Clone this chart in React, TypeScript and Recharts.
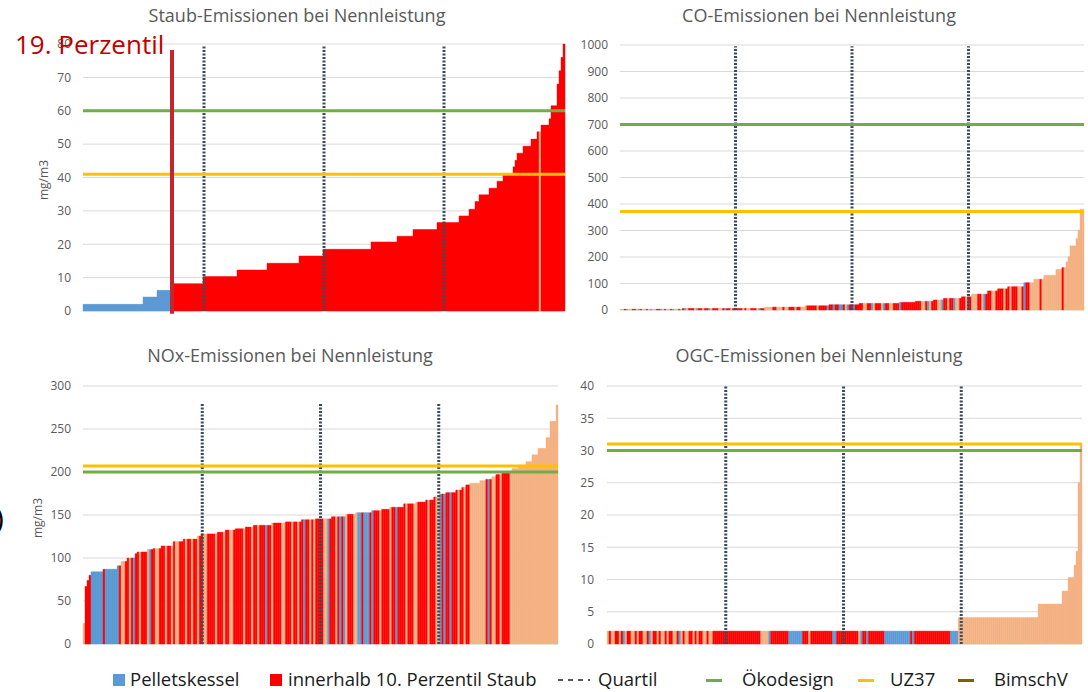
import React from "react";
import { BarChart, Bar, Cell, XAxis, YAxis, CartesianGrid, ReferenceLine } from "recharts";

// sorted measurements as runs: value + how many units carry it
const staubValues = [2, 4.2, 6.2, 8.2, 10.3, 12.3, 14.3, 16.5, 18.5, 20.7, 22.4, 24.4, 26.5, 28.5, 30.5, 32.8, 34.8, 36.8, 38.9, 41, 43.2, 45.2, 47.3, 49.4, 51.5, 53.7, 55.7, 57.6, 61.5, 68, 72, 76, 80];
const staubCounts = [30, 7, 7, 16, 17, 15, 16, 12, 24, 13, 8, 12, 11, 5, 3, 2, 5, 4, 3, 5, 1, 1, 3, 4, 3, 2, 4, 1, 3, 1, 1, 1, 1];
const staubKinds = "b44r184s1r12";

const coValues = [3, 6, 11, 16, 20, 25, 29, 33, 38, 44, 50, 60, 72, 80, 88, 103, 116, 131, 153, 160, 182, 201, 242, 270, 302, 380];
const coCounts = [31, 41, 20, 12, 15, 20, 8, 9, 5, 9, 5, 8, 5, 5, 8, 5, 5, 6, 3, 2, 1, 1, 3, 1, 1, 2];
const coKinds =
  "s2r1b1s2r2s1b1r1s2r1s1b1s2r2b1s1r1s2r1b1s2r1s1r1b1s1" +
  "r3s1b1r2s1r2b1s1r3s2r1b1r2s1r3" +
  "r2s1r1s2r3s1b1r2s2" +
  "s2r2s3r1s2r3s1r2s3" +
  "r5s1r4b1r2" +
  "b1r2b2r1s1b1r2b1r1" +
  "r3s2r2b1s1r3s1b1r2s2r3b1r1" +
  "r9" +
  "s2r1b1s1r3s2b1r2s1r2b1s2r3s1r2" +
  "s3r2s1b1r3s2r4s1r2s1r3s2r1b1r2" +
  "s5r1s10r1s10";

const noxValues = [24, 67, 74, 80, 84, 87, 91, 96, 100, 105, 107, 110, 111, 114, 119, 122, 125.6, 128, 130, 132.5, 134, 136, 138, 140.7, 142, 144.5, 145.5, 148, 150.8, 152.7, 155, 156.6, 159, 163, 165, 167.4, 171, 174.4, 176, 179, 182, 185, 187, 190, 191.5, 194.5, 197, 199, 204, 208, 212, 220, 227.5, 240, 259, 278];
const noxCounts = [1, 1, 1, 1, 6, 7, 2, 3, 4, 1, 5, 3, 4, 6, 5, 7, 2, 8, 4, 5, 5, 4, 9, 7, 8, 7, 8, 7, 5, 8, 5, 4, 7, 6, 5, 4, 3, 3, 5, 3, 2, 2, 5, 3, 3, 2, 3, 5, 3, 4, 3, 3, 4, 2, 3, 1];
const noxKinds =
  "s1r3b6r1b7" +
  "r1s2r2s1r1b1r2s1r3s1b1r2s2r3s1r2s1r1s2r3s1r2s1r2s1r2" +
  "s2r4s1r3s1r2s2r5s1r3s1r2s1r3b1r2s1r4s2r3s1r2s1r2b1r2s1r1s1r2" +
  "r2s2b1r3s1r1b1r1b1s1r3s2b2r1b3r1b1r3s1r4s1r2b1r4s1r3s2r5s1r3s2b1r1b1r2b1r3s1r2s1r2" +
  "s8r1b1r1s2r2s1r4s24";

const ogcValues = [2, 4.1, 6.2, 8.2, 10.3, 12.2, 14.4, 25, 31];
const ogcCounts = [176, 40, 12, 3, 3, 1, 1, 1, 1];
const ogcKinds =
  "s1r1s2r2s1r1b1s1r2s2r1s1r2s2r1b1s1r2s1r1s2r1s1r2s2r1b1s1r1s2r2s1r1s1r2s2r1s2" +
  "r24s4b1r9b7r3s1r11b2r1r10s1b1r2b1r8b13r1b1r18b4s62";

// quartile positions (unit index) and limit values
const staubQuartiles = [60, 120, 180];
const coQuartiles = [57, 115, 173];
const noxQuartiles = [59, 118, 177];
const ogcQuartiles = [59, 118, 177];

const staubTicks = [0, 10, 20, 30, 40, 50, 60, 70, 80];
const coTicks = [0, 100, 200, 300, 400, 500, 600, 700, 800, 900, 1000];
const noxTicks = [0, 50, 100, 150, 200, 250, 300];
const ogcTicks = [0, 5, 10, 15, 20, 25, 30, 35, 40];

const limitsOeko = { staub: 60, co: 700, nox: 200, ogc: 30 };
const limitsUz = { staub: 41, co: 372, nox: 207, ogc: 31 };
const perzentilIndex = 44;

const FONT = "'Open Sans', sans-serif";
const COLORS: Record<string, string> = { b: "#5B9BD5", r: "#FF0000", s: "#F4B183" };

function expand(values: number[], counts: number[]) {
  const out: number[] = [];
  values.forEach((v, i) => {
    for (let k = 0; k < counts[i]; k++) out.push(v);
  });
  return out;
}

function parseKinds(runs: string) {
  const out: string[] = [];
  for (const m of runs.matchAll(/([brs])(\d+)/g)) {
    for (let k = 0; k < Number(m[2]); k++) out.push(m[1]);
  }
  return out;
}

function Panel(props: any) {
  const { left, top, width, height, margin, yWidth, tickGap, ticks, values, counts, kinds, quartiles, quartileTop, oeko, uz, marker } = props;
  const vals = expand(values, counts);
  const ks = parseKinds(kinds);
  const data = vals.map((v, i) => ({ i, v, k: ks[i] || "s" }));
  const max = ticks[ticks.length - 1];
  return (
    <div style={{ position: "absolute", left, top, width, height }}>
      <BarChart width={width} height={height} data={data} margin={margin} barCategoryGap={0} barGap={0}>
        <CartesianGrid vertical={false} stroke="#D9D9D9" />
        <XAxis dataKey="i" hide />
        <YAxis
          width={yWidth}
          domain={[0, max]}
          ticks={ticks}
          interval={0}
          axisLine={false}
          tickLine={false}
          tickSize={6}
          tickMargin={tickGap}
          tick={{ fontSize: 12, fill: "#595959", fontFamily: FONT }}
        />
        <Bar dataKey="v" isAnimationActive={false}>
          {data.map((d) => (
            <Cell key={d.i} fill={COLORS[d.k]} stroke={COLORS[d.k]} strokeWidth={0.4} />
          ))}
        </Bar>
        {quartiles.map((q: number) => (
          <ReferenceLine
            key={q}
            segment={[{ x: q, y: 0 }, { x: q, y: quartileTop }]}
            stroke="#3B4A5E"
            strokeWidth={3}
            strokeDasharray="2 1.5"
          />
        ))}
        <ReferenceLine y={uz} stroke="#FFC000" strokeWidth={3} />
        <ReferenceLine y={oeko} stroke="#70AD47" strokeWidth={3} />
        {marker !== undefined && (
          <ReferenceLine
            segment={[{ x: marker, y: -0.8 }, { x: marker, y: 78.2 }]}
            stroke="#C3272D"
            strokeWidth={4}
            ifOverflow="visible"
          />
        )}
      </BarChart>
    </div>
  );
}

const titleStyle = (cx: number, cy: number): React.CSSProperties => ({
  position: "absolute",
  left: cx - 250,
  top: cy - 12,
  width: 500,
  height: 24,
  lineHeight: "24px",
  textAlign: "center",
  fontFamily: FONT,
  fontSize: 18,
  color: "#595959",
  whiteSpace: "nowrap",
});

const unitStyle = (cx: number, cy: number): React.CSSProperties => ({
  position: "absolute",
  left: cx - 30,
  top: cy - 8,
  width: 60,
  height: 16,
  lineHeight: "16px",
  textAlign: "center",
  fontFamily: FONT,
  fontSize: 12,
  color: "#595959",
  transform: "rotate(-90deg)",
});

const legendText = (x: number): React.CSSProperties => ({
  position: "absolute",
  left: x,
  top: 668,
  height: 22,
  lineHeight: "22px",
  fontFamily: FONT,
  fontSize: 18.5,
  color: "#1A1A1A",
  whiteSpace: "nowrap",
});

export default function App() {
  return (
    <div style={{ position: "absolute", left: 0, top: 0, width: 1088, height: 692, background: "#fff", overflow: "hidden" }}>
      <Panel
        left={0} top={0} width={570} height={330}
        margin={{ top: 44, right: 5, bottom: 19, left: 0 }}
        yWidth={83} tickGap={6}
        ticks={staubTicks} values={staubValues} counts={staubCounts} kinds={staubKinds}
        quartiles={staubQuartiles} quartileTop={79.5}
        oeko={limitsOeko.staub} uz={limitsUz.staub} marker={perzentilIndex}
      />
      <Panel
        left={570} top={0} width={518} height={330}
        margin={{ top: 45, right: 4, bottom: 20, left: 0 }}
        yWidth={50} tickGap={6}
        ticks={coTicks} values={coValues} counts={coCounts} kinds={coKinds}
        quartiles={coQuartiles} quartileTop={995}
        oeko={limitsOeko.co} uz={limitsUz.co}
      />
      <Panel
        left={0} top={340} width={570} height={330}
        margin={{ top: 46, right: 12, bottom: 26, left: 0 }}
        yWidth={83} tickGap={6}
        ticks={noxTicks} values={noxValues} counts={noxCounts} kinds={noxKinds}
        quartiles={noxQuartiles} quartileTop={280}
        oeko={limitsOeko.nox} uz={limitsUz.nox}
      />
      <Panel
        left={570} top={340} width={518} height={330}
        margin={{ top: 46, right: 6, bottom: 26, left: 0 }}
        yWidth={37} tickGap={7}
        ticks={ogcTicks} values={ogcValues} counts={ogcCounts} kinds={ogcKinds}
        quartiles={ogcQuartiles} quartileTop={40}
        oeko={limitsOeko.ogc} uz={limitsUz.ogc}
      />

      <div style={titleStyle(297, 15)}>Staub-Emissionen bei Nennleistung</div>
      <div style={titleStyle(819, 15)}>CO-Emissionen bei Nennleistung</div>
      <div style={titleStyle(290, 355)}>NOx-Emissionen bei Nennleistung</div>
      <div style={titleStyle(819, 355)}>OGC-Emissionen bei Nennleistung</div>

      <div style={unitStyle(44, 180)}>mg/m3</div>
      <div style={unitStyle(38, 518)}>mg/m3</div>

      <div style={{ position: "absolute", left: 15, top: 28, fontFamily: FONT, fontSize: 26, lineHeight: "32px", color: "#C00000", whiteSpace: "nowrap" }}>
        19. Perzentil
      </div>
      <div style={{ position: "absolute", left: -5, top: 500, fontFamily: FONT, fontSize: 30, lineHeight: "36px", color: "#000" }}>)</div>

      <div style={{ position: "absolute", left: 113, top: 674, width: 12, height: 12, background: COLORS.b }} />
      <div style={legendText(130)}>Pelletskessel</div>
      <div style={{ position: "absolute", left: 270, top: 674, width: 12, height: 12, background: COLORS.r }} />
      <div style={legendText(288)}>innerhalb 10. Perzentil Staub</div>
      <svg style={{ position: "absolute", left: 556, top: 675 }} width={36} height={10}>
        <line x1={2} y1={5} x2={34} y2={5} stroke="#595959" strokeWidth={2} strokeDasharray="5 5" />
      </svg>
      <div style={legendText(598)}>Quartil</div>
      <div style={{ position: "absolute", left: 706, top: 679, width: 16, height: 3, background: "#70AD47" }} />
      <div style={legendText(742)}>Ökodesign</div>
      <div style={{ position: "absolute", left: 858, top: 679, width: 16, height: 3, background: "#FFC000" }} />
      <div style={legendText(890)}>UZ37</div>
      <div style={{ position: "absolute", left: 958, top: 679, width: 16, height: 3, background: "#7F6000" }} />
      <div style={legendText(994)}>BimschV</div>
    </div>
  );
}
